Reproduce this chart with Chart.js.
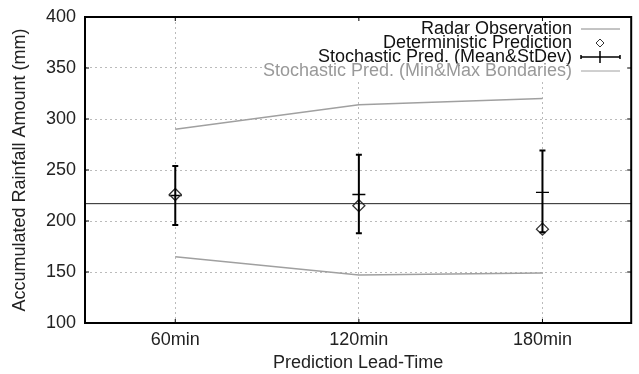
<!DOCTYPE html>
<html>
<head>
<meta charset="utf-8">
<script src="https://cdn.jsdelivr.net/npm/chart.js@4.4.0/dist/chart.umd.min.js"></script>
<style>
  html, body { margin: 0; padding: 0; background: #fff; overflow: hidden; }
  canvas { display: block; }
</style>
</head>
<body>
<canvas id="Regen_Chart" width="639" height="374"></canvas>
<script>
// Data (gelezen uit de figuur)
var leadTimes = [60, 120, 180];
var tickLabels = ['60min', '120min', '180min'];
var radarObs = 217;
var deterministic = [226, 215, 192];
var stochMean = [225, 226, 228];
var stochLow = [196, 188, 189];   // mean - stdev
var stochHigh = [254, 265, 269];  // mean + stdev
var stochMin = [165, 147, 149];
var stochMax = [290, 314, 320];
var legendLabels = ['Radar Observation', 'Deterministic Prediction', 'Stochastic Pred. (Mean&StDev)', 'Stochastic Pred. (Min&Max Bondaries)'];

var FONT = '"Liberation Sans", Arial, sans-serif';
var grijs = '#a0a0a0';
var xMin = 30.5, xMax = 209;

function punten(ys) {
    return leadTimes.map(function (x, i) { return { x: x, y: ys[i] }; });
}

// Foutbalken, kader en legenda tekenen
var extraPlugin = {
    id: 'extra',
    afterDatasetsDraw: function (chart) {
        var ctx = chart.ctx;
        var xs = chart.scales.x, ys = chart.scales.y;
        var a = chart.chartArea;

        // foutbalken (stdev)
        ctx.save();
        ctx.strokeStyle = '#000';
        ctx.lineWidth = 2;
        leadTimes.forEach(function (t, i) {
            var px = xs.getPixelForValue(t);
            var lo = ys.getPixelForValue(stochLow[i]);
            var hi = ys.getPixelForValue(stochHigh[i]);
            ctx.beginPath();
            ctx.moveTo(px, lo); ctx.lineTo(px, hi);
            ctx.moveTo(px - 3, lo); ctx.lineTo(px + 3, lo);
            ctx.moveTo(px - 3, hi); ctx.lineTo(px + 3, hi);
            ctx.stroke();
        });
        ctx.restore();

        // legenda met witte achtergrond
        ctx.save();
        ctx.fillStyle = '#fff';
        ctx.fillRect(262, a.top + 3, a.right - 262 - 1, 60);
        ctx.font = '18px ' + FONT;
        ctx.textAlign = 'right';
        ctx.textBaseline = 'middle';
        var rijen = [29, 43, 57, 71];
        var tx = 572, s0 = 581, s1 = 620, sm = 600;
        legendLabels.forEach(function (lab, i) {
            ctx.fillStyle = i === 3 ? '#999' : '#111';
            ctx.fillText(lab, tx, rijen[i]);
        });
        ctx.lineWidth = 1;
        ctx.strokeStyle = '#888';
        ctx.beginPath(); ctx.moveTo(s0, rijen[0]); ctx.lineTo(s1, rijen[0]); ctx.stroke();
        ctx.strokeStyle = grijs;
        ctx.beginPath(); ctx.moveTo(s0, rijen[3]); ctx.lineTo(s1, rijen[3]); ctx.stroke();
        // ruit
        ctx.strokeStyle = '#333';
        ctx.beginPath();
        ctx.moveTo(sm - 4, rijen[1]); ctx.lineTo(sm, rijen[1] - 4);
        ctx.lineTo(sm + 4, rijen[1]); ctx.lineTo(sm, rijen[1] + 4);
        ctx.closePath(); ctx.stroke();
        // stochastisch symbool
        ctx.strokeStyle = '#000';
        ctx.lineWidth = 1.5;
        ctx.beginPath();
        ctx.moveTo(s0, rijen[2]); ctx.lineTo(s1, rijen[2]);
        ctx.moveTo(s0, rijen[2] - 2); ctx.lineTo(s0, rijen[2] + 2);
        ctx.moveTo(s1, rijen[2] - 2); ctx.lineTo(s1, rijen[2] + 2);
        ctx.moveTo(sm, rijen[2] - 6); ctx.lineTo(sm, rijen[2] + 6);
        ctx.stroke();
        ctx.restore();

        // kader + tickmarks naar binnen
        ctx.save();
        ctx.strokeStyle = '#000';
        ctx.lineWidth = 1;
        ctx.beginPath();
        ys.ticks.forEach(function (t) {
            var py = ys.getPixelForValue(t.value);
            ctx.moveTo(a.left, py); ctx.lineTo(a.left + 4, py);
            ctx.moveTo(a.right, py); ctx.lineTo(a.right - 4, py);
        });
        xs.ticks.forEach(function (t) {
            var px = xs.getPixelForValue(t.value);
            ctx.moveTo(px, a.bottom); ctx.lineTo(px, a.bottom - 4);
            ctx.moveTo(px, a.top); ctx.lineTo(px, a.top + 4);
        });
        ctx.stroke();
        ctx.lineWidth = 2;
        ctx.strokeRect(a.left, a.top, a.right - a.left, a.bottom - a.top);
        ctx.restore();
    }
};

var regenChart;
function tekenRegenGrafiek() {
    var ctx = document.getElementById('Regen_Chart').getContext('2d');
    regenChart = new Chart(ctx, {
        type: 'scatter',
        data: {
            datasets: [
                { label: legendLabels[0], data: [{ x: xMin, y: radarObs }, { x: xMax, y: radarObs }],
                  showLine: true, borderColor: '#222', borderWidth: 1, pointRadius: 0 },
                { label: 'Min', data: punten(stochMin), showLine: true, borderColor: grijs, borderWidth: 1.5, pointRadius: 0 },
                { label: 'Max', data: punten(stochMax), showLine: true, borderColor: grijs, borderWidth: 1.5, pointRadius: 0 },
                { label: legendLabels[1], data: punten(deterministic), pointStyle: 'rectRot', pointRadius: 6,
                  backgroundColor: 'rgba(255,255,255,0)', borderColor: '#333', borderWidth: 1.3 },
                { label: 'Mean', data: punten(stochMean), pointStyle: 'line', pointRadius: 6.5,
                  borderColor: '#000', borderWidth: 1.3 }
            ]
        },
        options: {
            responsive: false,
            animation: false,
            events: [],
            layout: { padding: { top: 17, right: 1, left: 0, bottom: 0 } },
            plugins: { legend: { display: false }, tooltip: { enabled: false } },
            scales: {
                x: {
                    type: 'linear', min: xMin, max: xMax,
                    afterBuildTicks: function (s) { s.ticks = leadTimes.map(function (v) { return { value: v }; }); },
                    afterFit: function (s) { s.height = 51; s.paddingRight = 0; s.paddingLeft = 0; },
                    grid: { color: '#bbb', drawTicks: false },
                    border: { display: false, dash: [2, 3] },
                    ticks: { padding: 6, color: '#222', font: { family: FONT, size: 18 },
                             callback: function (v) { return tickLabels[leadTimes.indexOf(v)]; } },
                    title: { display: true, text: 'Prediction Lead-Time', color: '#222',
                             font: { family: FONT, size: 18 }, padding: { top: 0, bottom: 0 } }
                },
                y: {
                    min: 100, max: 400,
                    ticks: { stepSize: 50, padding: 9, color: '#222', font: { family: FONT, size: 18 } },
                    afterFit: function (s) { s.width = 85; s.paddingTop = 0; s.paddingBottom = 0; },
                    grid: { color: '#bbb', drawTicks: false },
                    border: { display: false, dash: [2, 3] },
                    title: { display: true, text: 'Accumulated Rainfall Amount (mm)', color: '#222',
                             font: { family: FONT, size: 18 }, padding: { top: 9, bottom: 0 } }
                }
            }
        },
        plugins: [extraPlugin]
    });
}

tekenRegenGrafiek();
</script>
</body>
</html>
